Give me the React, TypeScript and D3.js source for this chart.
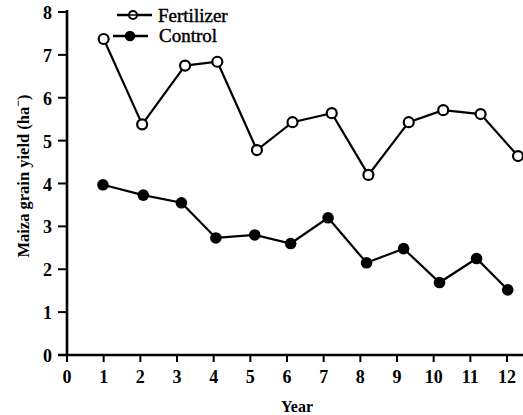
import React from "react";
import * as d3 from "d3";

const fertYears = [1.0, 2.05, 3.22, 4.1, 5.18, 6.15, 7.22, 8.22, 9.32, 10.26, 11.28, 12.3];
const fertYield = [7.37, 5.38, 6.75, 6.84, 4.78, 5.43, 5.64, 4.2, 5.43, 5.71, 5.62, 4.64];
const ctrlYears = [0.98, 2.08, 3.12, 4.06, 5.12, 6.1, 7.12, 8.17, 9.18, 10.16, 11.17, 12.02];
const ctrlYield = [3.97, 3.73, 3.55, 2.73, 2.8, 2.6, 3.2, 2.15, 2.48, 1.69, 2.25, 1.52];
const xTicks = [0, 1, 2, 3, 4, 5, 6, 7, 8, 9, 10, 11, 12];
const yTicks = [0, 1, 2, 3, 4, 5, 6, 7, 8];

const W = 523;
const H = 415;
const FONT = "'Liberation Serif', 'DejaVu Serif', serif";

export default function App() {
  const x = d3.scaleLinear().domain([0, 12]).range([67, 507]);
  const y = d3.scaleLinear().domain([0, 8]).range([355, 12]);
  const line = d3
    .line<[number, number]>()
    .x((d) => x(d[0]))
    .y((d) => y(d[1]));
  const fert: [number, number][] = fertYears.map((v, i) => [v, fertYield[i]]);
  const ctrl: [number, number][] = ctrlYears.map((v, i) => [v, ctrlYield[i]]);

  return (
    <svg
      width={W}
      height={H}
      style={{ position: "absolute", left: 0, top: 0, background: "#fff" }}
      fontFamily={FONT}
    >
      {/* axes */}
      <line x1={x(0)} x2={x(0)} y1={y(8) - 2} y2={y(0) + 1} stroke="#000" strokeWidth={2.6} />
      <line x1={x(0) - 9} x2={W} y1={y(0)} y2={y(0)} stroke="#000" strokeWidth={2.6} />
      {yTicks.map((t) => (
        <g key={"y" + t}>
          <line x1={x(0) - 9} x2={x(0)} y1={y(t)} y2={y(t)} stroke="#000" strokeWidth={2} />
          <text
            x={x(0) - 15}
            y={y(t) + 7}
            textAnchor="end"
            fontSize={18}
            fontWeight="bold"
          >
            {t}
          </text>
        </g>
      ))}
      {xTicks.map((t) => (
        <g key={"x" + t}>
          <line x1={x(t)} x2={x(t)} y1={y(0)} y2={y(0) + 7} stroke="#000" strokeWidth={2} />
          <text x={x(t)} y={383} textAnchor="middle" fontSize={18} fontWeight="bold">
            {t}
          </text>
        </g>
      ))}
      <text x={297} y={412} textAnchor="middle" fontSize={16} fontWeight="bold">
        Year
      </text>
      <text
        transform={`translate(29,${176}) rotate(-90)`}
        textAnchor="middle"
        fontSize={16.5}
        fontWeight="bold"
      >
        Maiza grain yield (ha
        <tspan dy={-7} fontSize={12}>
          −
        </tspan>
        <tspan dy={7}>)</tspan>
      </text>

      {/* series */}
      <path d={line(ctrl) || ""} fill="none" stroke="#000" strokeWidth={2.2} />
      <path d={line(fert) || ""} fill="none" stroke="#000" strokeWidth={2.2} />
      {ctrl.map((d, i) => (
        <circle key={"c" + i} cx={x(d[0])} cy={y(d[1])} r={5.8} fill="#000" />
      ))}
      {fert.map((d, i) => (
        <circle
          key={"f" + i}
          cx={x(d[0])}
          cy={y(d[1])}
          r={5}
          fill="#fff"
          stroke="#000"
          strokeWidth={2.2}
        />
      ))}

      {/* legend */}
      <line x1={117} x2={152} y1={15} y2={15} stroke="#000" strokeWidth={2.6} />
      <circle cx={133} cy={15} r={4} fill="#fff" stroke="#000" strokeWidth={2} />
      <line x1={129} x2={137} y1={15} y2={15} stroke="#000" strokeWidth={1.5} />
      <text x={158} y={22} fontSize={19} stroke="#000" strokeWidth={0.45}>
        Fertilizer
      </text>
      <line x1={113} x2={148} y1={36} y2={36} stroke="#000" strokeWidth={2.6} />
      <circle cx={130} cy={36} r={5.2} fill="#000" />
      <text x={159} y={42} fontSize={19} stroke="#000" strokeWidth={0.45}>
        Control
      </text>
    </svg>
  );
}
